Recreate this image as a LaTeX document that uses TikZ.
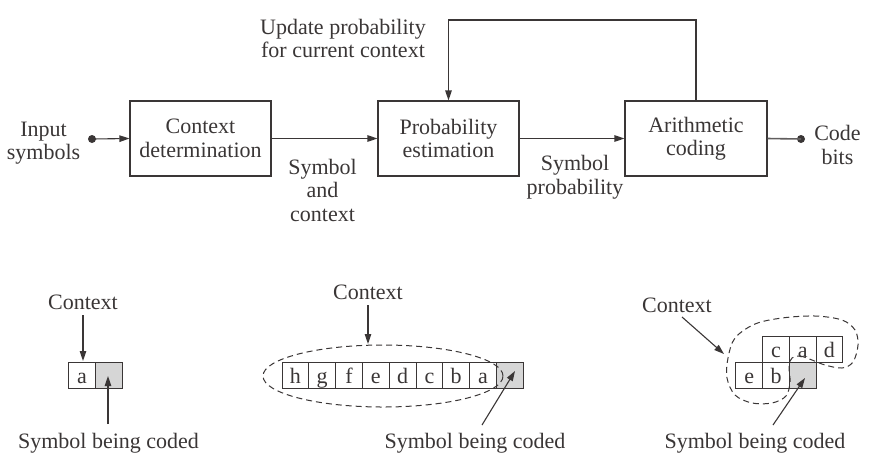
\documentclass[tikz,border=0pt]{standalone}
\usepackage{fontspec}
\setmainfont{Liberation Serif}
\usetikzlibrary{arrows.meta,shapes.geometric}
\definecolor{ink}{HTML}{3A3636}
\definecolor{cellgray}{HTML}{D6D6D6}
\begin{document}
\begin{tikzpicture}[x=1pt,y=-1pt,
  font=\fontsize{22}{23.5}\selectfont,
  block/.style={draw=ink, line width=1.1pt, minimum width=141pt, minimum height=75pt, inner sep=0pt, align=center, text=ink},
  lbl/.style={align=center, text=ink, inner sep=0pt},
  cell/.style={draw=ink, line width=1pt, minimum width=26.8pt, minimum height=26pt, inner sep=0pt, text=ink, text height=16.6pt, text depth=0pt},
  graycell/.style={cell, fill=cellgray},
  arr/.style={draw=ink, line width=1.1pt, -{Triangle[length=10pt,width=6.5pt]}},
  plain/.style={draw=ink!80, line width=1.6pt},
  dotnode/.style={circle, fill=ink, inner sep=0pt, minimum size=8pt},
  ctxline/.style={draw=ink, line width=1pt, dash pattern=on 6pt off 4pt}
]
\useasboundingbox (0,0) rectangle (872,467);

% ---------- top row ----------
\node[block] (ctx) at (200.5,138.5) {Context\\determination};
\node[block] (prob) at (448.5,138.5) {Probability\\estimation};
\node[block, minimum width=142pt] (arith) at (696,138.5) {Arithmetic\\coding};

\node[dotnode] (din) at (92,139) {};
\node[dotnode] (dout) at (801,139) {};

\node[lbl] (tin) at (43.5,143) {Input\\symbols};
\node[lbl] (tout) at (837.5,145) {Code\\bits};
\node[lbl] (tsc) at (322.5,190) {Symbol\\and\\context};
\node[lbl] (tsp) at (575,177) {Symbol\\probability};
\node[lbl] (tup) at (343,38.5) {Update probability\\for current context};

\draw[arr] (din.center) -- (ctx.west);
\draw[arr] (ctx.east) -- (prob.west);
\draw[arr] (prob.east) -- (arith.west);
\draw[plain] (arith.east) -- (dout.center);
\coordinate (fb) at (572,20);
\draw[arr] (arith.north) |- (fb) -| (prob.north);

% ---------- bottom left ----------
\node[cell] (l1) at (82,375) {a};
\node[graycell] (l2) at (108.8,375) {};
\node[lbl] (lctx) at (83,302) {Context};
\node[lbl] (lsym) at (108.5,443) {Symbol being coded};
\coordinate (lca) at (83,315);
\coordinate (lcb) at (83,361);
\coordinate (lsa) at (108,424);
\coordinate (lsb) at (108,376);
\draw[arr] (lca) -- (lcb);
\draw[arr] (lsa) -- (lsb);

% ---------- bottom middle ----------
\foreach \t [count=\i from 0] in {h,g,f,e,d,c,b,a}
  \node[cell] (m\i) at (295.4+26.8*\i,375) {\t};
\node[graycell] (m8) at (509.8,375) {};
\draw[ctxline] (383,376) ellipse [x radius=120pt, y radius=31pt];
\node[lbl] (mctx) at (368,292) {Context};
\node[lbl] (msym) at (475,443) {Symbol being coded};
\coordinate (mca) at (368,305);
\coordinate (mcb) at (368,344);
\coordinate (msa) at (482,425);
\coordinate (msb) at (515,371);
\draw[arr] (mca) -- (mcb);
\draw[arr] (msa) -- (msb);

% ---------- bottom right ----------
\node[cell] (rc) at (776,349) {c};
\node[cell] (ra) at (802.7,349) {a};
\node[cell] (rd) at (829.4,349) {d};
\node[cell] (re) at (749.3,375) {e};
\node[cell] (rb) at (776,375) {b};
\node[graycell] (rx) at (802.7,375) {};
\draw[ctxline] plot[smooth cycle, tension=0.55] coordinates {
  (792,358) (800,356) (812,360) (825,365) (842,368) (853,362) (858,345)
  (855,330) (842,320) (815,316) (782,318) (755,324) (735,338) (728,358)
  (727,378) (735,395) (752,403) (772,403) (786,396) (790,382) (789,366)};
\node[lbl] (rctx) at (677,305) {Context};
\node[lbl] (rsym) at (755,443) {Symbol being coded};
\coordinate (rca) at (682,317);
\coordinate (rcb) at (724,354);
\coordinate (rsa) at (773,425);
\coordinate (rsb) at (805,378);
\draw[arr] (rca) -- (rcb);
\draw[arr] (rsa) -- (rsb);
\end{tikzpicture}
\end{document}
